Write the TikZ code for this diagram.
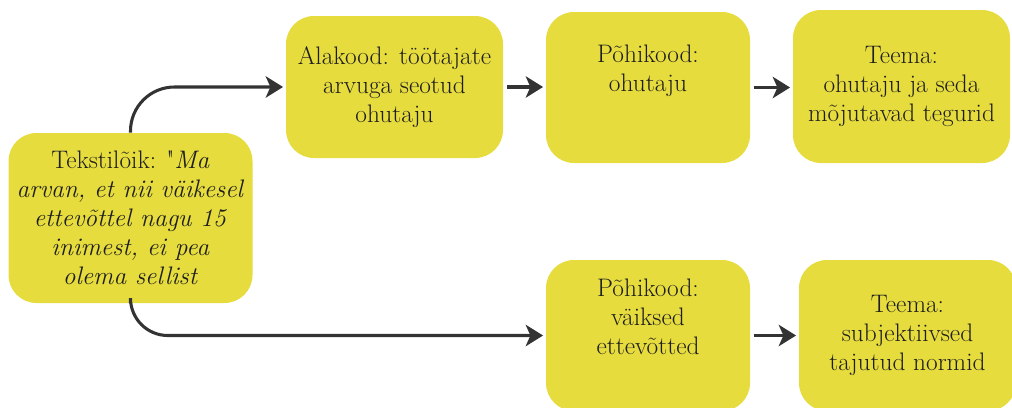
\documentclass[tikz,border=0pt]{standalone}
\usepackage{fontspec}
\setmainfont{Latin Modern Roman}
\usetikzlibrary{arrows.meta}
\definecolor{boxyellow}{HTML}{E6DC3E}
\definecolor{arrowgray}{HTML}{333333}
\definecolor{txt}{HTML}{1E1E1E}
\tikzset{
  box/.style={fill=boxyellow, rounded corners=21pt, align=center, text=txt,
    font=\fontsize{19pt}{21.75pt}\selectfont, inner sep=0pt},
  arr/.style={draw=arrowgray, line width=2.3pt,
    -{Stealth[length=13pt,width=16pt,inset=3.5pt]}}
}
\begin{document}
\begin{tikzpicture}[x=0.75pt,y=-0.75pt]
\useasboundingbox (0,0) rectangle (1012,407);
\clip (0,0) rectangle (1012,407);
\node[box, minimum width=244*0.75pt, minimum height=170*0.75pt] (A) at (130.5,218)
  {Tekstilõik: \textquotedbl\textit{Ma}\\\textit{arvan, et nii väikesel}\\\textit{ettevõttel nagu 15}\\\textit{inimest, ei pea}\\\textit{olema sellist}};
\node[box, minimum width=217*0.75pt, minimum height=142*0.75pt] (B) at (394.5,87)
  {Alakood: töötajate\\arvuga seotud\\ohutaju};
\node[box, minimum width=204*0.75pt, minimum height=151*0.75pt] (C) at (648,87.5)
  {Põhikood:\\ohutaju\\\strut};
\node[box, minimum width=217*0.75pt, minimum height=153*0.75pt] (D) at (901.5,86.5)
  {Teema:\\ohutaju ja seda\\mõjutavad tegurid};
\node[box, minimum width=204*0.75pt, minimum height=151*0.75pt] (E) at (648,335.5)
  {Põhikood:\\väiksed\\ettevõtted\\\strut};
\node[box, minimum width=217*0.75pt, minimum height=151*0.75pt] (F) at (907.5,335.5)
  {Teema:\\subjektiivsed\\tajutud normid};
\draw[arr, rounded corners=33pt] (A.north) |- ([xshift=-2pt]B.west);
\draw[arr, rounded corners=28pt] (A.south) |- ([xshift=-2pt]E.west);
\draw[arr] ([xshift=3pt]B.east) -- ([xshift=-2pt]B.east -| C.west);
\draw[arr] ([xshift=3pt]C.east) -- ([xshift=-2pt]C.east -| D.west);
\draw[arr] ([xshift=3pt]E.east) -- ([xshift=-2pt]E.east -| F.west);
\end{tikzpicture}
\end{document}
